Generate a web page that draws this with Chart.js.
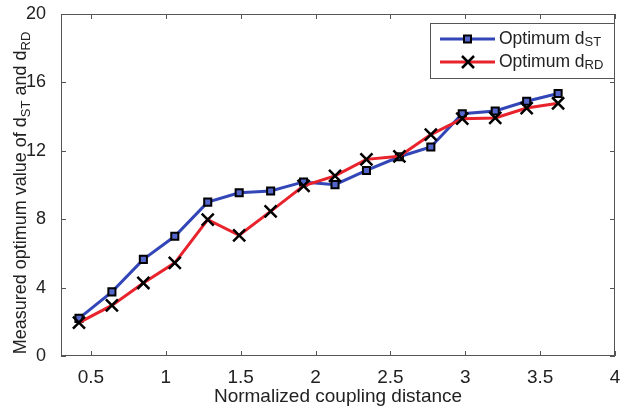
<!DOCTYPE html>
<html>
<head>
<meta charset="utf-8">
<script src="https://cdn.jsdelivr.net/npm/chart.js@4.4.1/dist/chart.umd.min.js"></script>
<style>
  html, body { margin: 0; padding: 0; background: #fff; }
  #wrap { width: 626px; height: 408px; }
</style>
</head>
<body>
<div id="wrap"><canvas id="chart" width="626" height="408"></canvas></div>
<script>
// values
const distance = [0.42, 0.64, 0.85, 1.06, 1.28, 1.49, 1.70, 1.92, 2.13, 2.34, 2.56, 2.77, 2.98, 3.20, 3.41, 3.62];
const optimumST = [2.2, 3.75, 5.65, 7.0, 9.0, 9.55, 9.65, 10.18, 10.02, 10.85, 11.65, 12.22, 14.17, 14.33, 14.9, 15.35];
const optimumRD = [1.95, 2.96, 4.27, 5.45, 7.98, 7.06, 8.46, 9.95, 10.53, 11.5, 11.68, 12.95, 13.88, 13.92, 14.5, 14.78];

const xTicks = [0.5, 1, 1.5, 2, 2.5, 3, 3.5, 4];
const xTickLabels = ["0.5", "1", "1.5", "2", "2.5", "3", "3.5", "4"];
const yTicks = [0, 4, 8, 12, 16, 20];

const FONT = "'Liberation Sans', Arial, sans-serif";
const BLUE = "#3346b8";
const RED = "#e8232b";
const FRAME = "#555";

// text with subscripts, pieces = [[text, isSub], ...]
function drawSubText(ctx, pieces, x, y, size) {
    let cx = x;
    pieces.forEach(p => {
        const s = p[1] ? Math.round(size * 0.72) : size;
        ctx.font = s + "px " + FONT;
        ctx.fillText(p[0], cx, y + (p[1] ? size * 0.22 : 0));
        cx += ctx.measureText(p[0]).width;
    });
    return cx - x;
}
function measureSubText(ctx, pieces, size) {
    let w = 0;
    pieces.forEach(p => {
        const s = p[1] ? Math.round(size * 0.72) : size;
        ctx.font = s + "px " + FONT;
        w += ctx.measureText(p[0]).width;
    });
    return w;
}

// frame box with inward ticks on all four sides
const framePlugin = {
    id: "frame",
    beforeDatasetsDraw(chart) {
        const ctx = chart.ctx;
        const a = chart.chartArea;
        const xs = chart.scales.x, ys = chart.scales.y;
        ctx.save();
        ctx.strokeStyle = FRAME;
        ctx.lineWidth = 1;
        ctx.strokeRect(a.left + 0.5, a.top + 0.5, a.right - a.left - 1, a.bottom - a.top - 1);
        const tl = 5;
        ctx.beginPath();
        xTicks.forEach(v => {
            const px = Math.round(xs.getPixelForValue(v)) + 0.5;
            ctx.moveTo(px, a.bottom); ctx.lineTo(px, a.bottom - tl);
            ctx.moveTo(px, a.top); ctx.lineTo(px, a.top + tl);
        });
        yTicks.forEach(v => {
            const py = Math.round(ys.getPixelForValue(v)) + 0.5;
            ctx.moveTo(a.left, py); ctx.lineTo(a.left + tl, py);
            ctx.moveTo(a.right, py); ctx.lineTo(a.right - tl, py);
        });
        ctx.stroke();
        ctx.restore();
    },
    afterDraw(chart) {
        const ctx = chart.ctx;
        ctx.save();
        // y axis title
        const size = 18;
        const title = [["Measured optimum value of d", false], ["ST", true], [" and d", false], ["RD", true]];
        const w = measureSubText(ctx, title, size);
        ctx.translate(26, 193);
        ctx.rotate(-Math.PI / 2);
        ctx.fillStyle = "#222";
        ctx.textBaseline = "alphabetic";
        drawSubText(ctx, title, -w / 2, 0, size);
        ctx.restore();

        // legend
        ctx.save();
        const lx = 430, ly = 23, lw = 184, lh = 55;
        ctx.fillStyle = "#fff";
        ctx.fillRect(lx, ly, lw, lh);
        ctx.strokeStyle = FRAME;
        ctx.lineWidth = 1;
        ctx.strokeRect(lx + 0.5, ly + 0.5, lw, lh);
        const rows = [
            { y: 39, color: BLUE, marker: "sq", text: [["Optimum d", false], ["ST", true]] },
            { y: 62, color: RED, marker: "x", text: [["Optimum d", false], ["RD", true]] }
        ];
        rows.forEach(r => {
            ctx.strokeStyle = r.color;
            ctx.lineWidth = 3;
            ctx.beginPath();
            ctx.moveTo(440, r.y); ctx.lineTo(495, r.y);
            ctx.stroke();
            ctx.strokeStyle = "#000";
            if (r.marker === "sq") {
                ctx.fillStyle = "#5566cc";
                ctx.lineWidth = 2;
                ctx.fillRect(464, r.y - 3.5, 7, 7);
                ctx.strokeRect(464, r.y - 3.5, 7, 7);
            } else {
                ctx.lineWidth = 2.5;
                ctx.beginPath();
                ctx.moveTo(462, r.y - 6); ctx.lineTo(474, r.y + 6);
                ctx.moveTo(474, r.y - 6); ctx.lineTo(462, r.y + 6);
                ctx.stroke();
            }
            ctx.fillStyle = "#222";
            ctx.textBaseline = "middle";
            drawSubText(ctx, r.text, 499, r.y, 17.5);
        });
        ctx.restore();
    }
};

const ctx = document.getElementById("chart").getContext("2d");
new Chart(ctx, {
    type: "line",
    data: {
        datasets: [{
            label: "Optimum dST",
            data: distance.map((x, i) => ({ x: x, y: optimumST[i] })),
            borderColor: BLUE,
            borderWidth: 3,
            pointStyle: "rect",
            pointRadius: 5,
            pointBorderWidth: 2,
            pointBorderColor: "#000",
            pointBackgroundColor: "#5566cc",
            order: 2
        }, {
            label: "Optimum dRD",
            data: distance.map((x, i) => ({ x: x, y: optimumRD[i] })),
            borderColor: RED,
            borderWidth: 3,
            pointStyle: "crossRot",
            pointRadius: 8.5,
            pointBorderWidth: 2.5,
            pointBorderColor: "#000",
            order: 1
        }]
    },
    options: {
        responsive: false,
        animation: false,
        devicePixelRatio: 1,
        layout: { padding: { left: 0, top: 14, right: 3, bottom: 0 } },
        plugins: { legend: { display: false }, tooltip: { enabled: false } },
        scales: {
            x: {
                type: "linear",
                min: 0.3,
                max: 4,
                grid: { display: false },
                border: { display: false },
                ticks: {
                    font: { family: FONT, size: 19 },
                    color: "#222",
                    padding: 2,
                    maxRotation: 0,
                    autoSkip: false,
                    callback: v => xTickLabels[xTicks.indexOf(v)]
                },
                title: {
                    display: true,
                    text: "Normalized coupling distance",
                    font: { family: FONT, size: 19 },
                    color: "#222",
                    padding: { top: 0, bottom: 0 }
                },
                afterBuildTicks: s => { s.ticks = xTicks.map(v => ({ value: v })); },
                afterFit: s => { s.height = 52; s.paddingLeft = 0; s.paddingRight = 0; }
            },
            y: {
                min: 0,
                max: 20,
                grid: { display: false },
                border: { display: false },
                ticks: {
                    font: { family: FONT, size: 18 },
                    color: "#222",
                    padding: 7,
                    stepSize: 4
                },
                afterBuildTicks: s => { s.ticks = yTicks.map(v => ({ value: v })); },
                afterFit: s => { s.width = 61; s.paddingTop = 0; s.paddingBottom = 0; }
            }
        }
    },
    plugins: [framePlugin]
});
</script>
</body>
</html>
